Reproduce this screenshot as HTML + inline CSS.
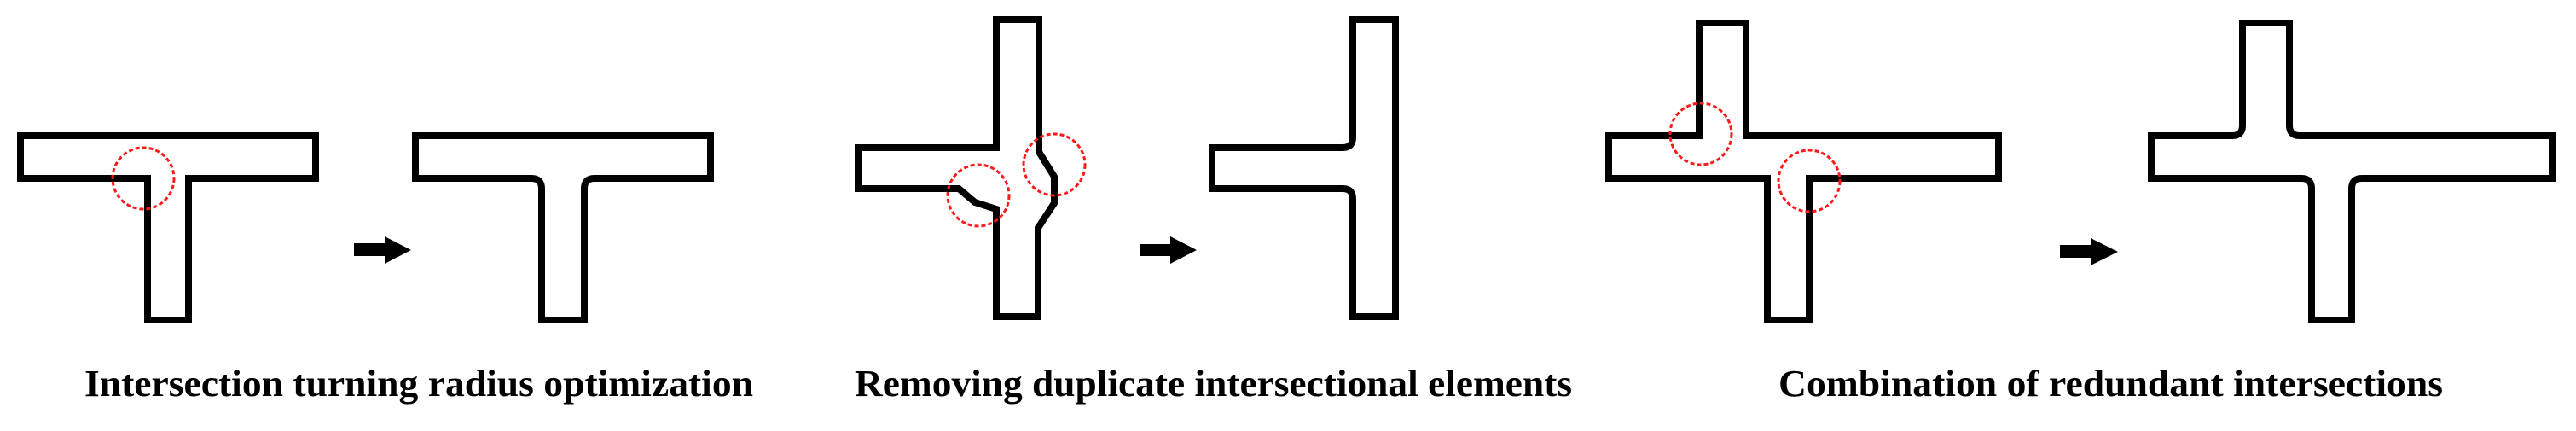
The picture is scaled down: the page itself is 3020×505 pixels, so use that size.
<!DOCTYPE html>
<html><head><meta charset="utf-8"><style>html,body{margin:0;padding:0;background:#fff;width:3020px;height:505px;overflow:hidden}</style></head>
<body>
<svg width="3020" height="505" viewBox="0 0 3020 505" xmlns="http://www.w3.org/2000/svg">
<rect width="3020" height="505" fill="#fff"/>
<g fill="none" stroke="#000" stroke-width="8" stroke-linejoin="miter">
<path d="M24,159 H370 V209 H221 V375 H173 V209 H24 Z"/>
<path d="M487,159 H833 V209 H697 Q685,209 685,221 V375 H635 V221 Q635,209 623,209 H487 Z"/>
<path d="M1006,173 H1168 V23 H1218 V178 L1236,207 V238 L1217,267 V371 H1168 V245 L1143,237 L1124,221 H1006 Z"/>
<path d="M1421,173 H1574 Q1586,173 1586,161 V23 H1636 V371 H1586 V233 Q1586,221 1574,221 H1421 Z"/>
<path d="M1886,159 H1992 V27 H2047 V159 H2343 V209 H2121 V375 H2072 V209 H1886 Z"/>
<path d="M2522,159 H2617 Q2629,159 2629,147 V27 H2684 V147 Q2684,159 2696,159 H2992 V209 H2769 Q2757,209 2757,221 V375 H2710 V221 Q2710,209 2698,209 H2522 Z"/>
</g>
<g fill="none" stroke="#ff1a1a" stroke-width="3" stroke-dasharray="5 3">
<ellipse cx="168" cy="209" rx="36" ry="36"/>
<ellipse cx="1147" cy="229" rx="36" ry="36"/>
<ellipse cx="1236" cy="193" rx="36" ry="36"/>
<ellipse cx="1994" cy="157" rx="36" ry="36"/>
<ellipse cx="2121" cy="212" rx="36" ry="36"/>
</g>
<g fill="#000">
<polygon points="415,285 451,285 451,277 482,293 451,309 451,300 415,300"/>
<polygon points="1336,286 1372,286 1372,277 1403,293 1372,309 1372,300 1336,300"/>
<polygon points="2415,287 2451,287 2451,279 2483,295 2451,311 2451,302 2415,302"/>
</g>
<g font-family="'Liberation Serif', serif" font-weight="bold" font-size="44" fill="#000">
<text x="99" y="464" textLength="784" lengthAdjust="spacingAndGlyphs">Intersection turning radius optimization</text>
<text x="1002" y="464" textLength="841" lengthAdjust="spacingAndGlyphs">Removing duplicate intersectional elements</text>
<text x="2085" y="464" textLength="779" lengthAdjust="spacingAndGlyphs">Combination of redundant intersections</text>
</g>
</svg>
</body></html>
